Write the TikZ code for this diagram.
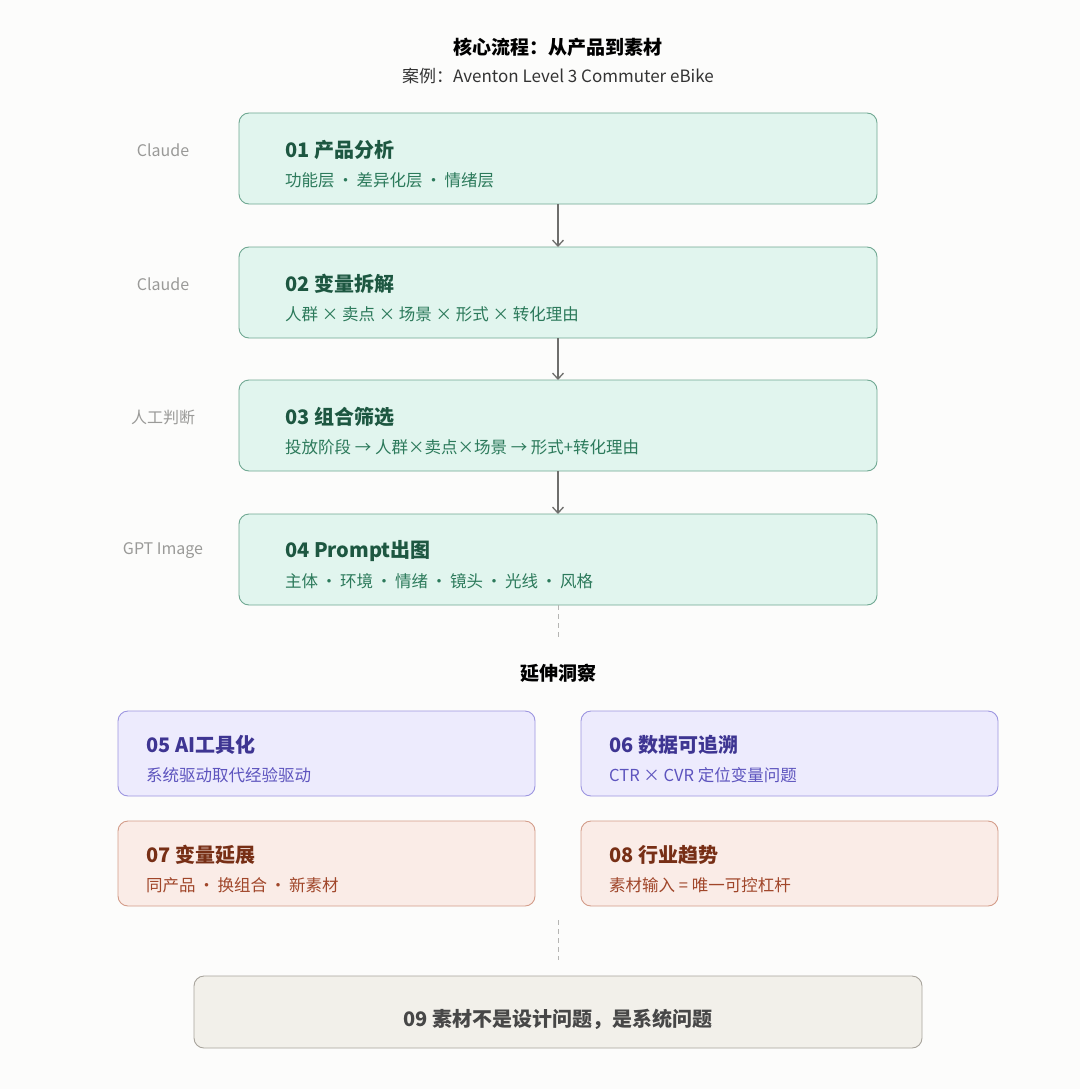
\documentclass[tikz,border=0pt]{standalone}
\usepackage{fontspec}
\usetikzlibrary{arrows.meta}
\setmainfont{Noto Sans CJK SC}
\begin{document}
\begin{tikzpicture}[x=1pt,y=-1pt,
 box/.style={rounded corners=10pt,line width=0.9pt},
 gbox/.style={box,fill=gfill,draw=gdraw},
 pbox/.style={box,fill=pfill,draw=pdraw},
 rbox/.style={box,fill=rfill,draw=rdraw},
 ttl/.style={anchor=west,inner sep=0pt,font=\fontsize{20}{23}\selectfont\bfseries},
 sub/.style={anchor=west,inner sep=0pt,font=\fontsize{16.5}{19}\selectfont},
 side/.style={font=\fontsize{16}{19}\selectfont,text=sidec},
 arr/.style={draw=arrc,line width=1.3pt,-{Straight Barb[length=6pt,width=11pt]}},
 dline/.style={draw=dashc,line width=1pt,dash pattern=on 5pt off 4pt}]
\definecolor{bg}{HTML}{FCFCFB}
\definecolor{gfill}{HTML}{E1F5EE}\definecolor{gdraw}{HTML}{6FA892}
\definecolor{gt}{HTML}{1D5741}\definecolor{gs}{HTML}{2C7A5B}
\definecolor{pfill}{HTML}{EDEBFD}\definecolor{pdraw}{HTML}{9C95E0}
\definecolor{pt}{HTML}{3E3592}\definecolor{ps}{HTML}{5D54BE}
\definecolor{rfill}{HTML}{FAECE7}\definecolor{rdraw}{HTML}{D39C89}
\definecolor{rt}{HTML}{772F16}\definecolor{rs}{HTML}{A0462A}
\definecolor{yfill}{HTML}{F2F0EA}\definecolor{ydraw}{HTML}{A8A49C}
\definecolor{sidec}{HTML}{9A9A98}\definecolor{arrc}{HTML}{6E6E6C}
\definecolor{dashc}{HTML}{B5B5B3}
\fill[bg] (0,0) rectangle (1080,1089);
\useasboundingbox (0,0) rectangle (1080,1089);
\node (title) at (558,47) {\fontsize{19}{22}\selectfont\bfseries 核心流程：从产品到素材};
\node (subt) at (558,76) {\fontsize{17}{20}\selectfont\color{black!80} 案例：Aventon Level 3 Commuter eBike};
% main boxes
\foreach \n/\y/\t/\s/\l in {
 1/113/01 产品分析/功能层{\,}·{\,}差异化层{\,}·{\,}情绪层/Claude,
 2/247/02 变量拆解/人群 × 卖点 × 场景 × 形式 × 转化理由/Claude,
 3/380/03 组合筛选/投放阶段 → 人群×卖点×场景 → 形式+转化理由/人工判断,
 4/514/04 Prompt出图/主体{\,}·{\,}环境{\,}·{\,}情绪{\,}·{\,}镜头{\,}·{\,}光线{\,}·{\,}风格/GPT Image}{
 \draw[gbox] (239,\y) rectangle (877,\y+91);
 \coordinate (b\n t) at (558,\y);
 \coordinate (b\n b) at (558,\y+91);
 \node[ttl,text=gt] (t\n) at (285,\y+37) {\t};
 \node[sub,text=gs] (s\n) at (285,\y+67) {\s};
 \node[side] (l\n) at (163,\y+37) {\l};
}
\draw[arr] (b1b) -- (b2t);
\draw[arr] (b2b) -- (b3t);
\draw[arr] (b3b) -- (b4t);
\coordinate (d1) at (558,640);
\draw[dline] (b4b) -- (d1);
\node (ext) at (558,673) {\fontsize{19}{22}\selectfont\bfseries 延伸洞察};
\draw[pbox] (118,711) rectangle (535,796);
\node[ttl,text=pt] at (146,745) {05 AI工具化};
\node[sub,text=ps] at (146,775) {系统驱动取代经验驱动};
\draw[pbox] (581,711) rectangle (998,796);
\node[ttl,text=pt] at (609,745) {06 数据可追溯};
\node[sub,text=ps] at (609,775) {CTR × CVR 定位变量问题};
\draw[rbox] (118,821) rectangle (535,906);
\node[ttl,text=rt] at (146,855) {07 变量延展};
\node[sub,text=rs] at (146,885) {同产品{\,}·{\,}换组合{\,}·{\,}新素材};
\draw[rbox] (581,821) rectangle (998,906);
\node[ttl,text=rt] at (609,855) {08 行业趋势};
\node[sub,text=rs] at (609,885) {素材输入 = 唯一可控杠杆};
\coordinate (d2) at (558,920);\coordinate (d3) at (558,960);
\draw[dline] (d2) -- (d3);
\draw[box,fill=yfill,draw=ydraw] (194,976) rectangle (922,1048);
\node[text=black!72] (n9) at (558,1019) {\fontsize{20}{23}\selectfont\bfseries 09 素材不是设计问题，是系统问题};
\end{tikzpicture}
\end{document}
